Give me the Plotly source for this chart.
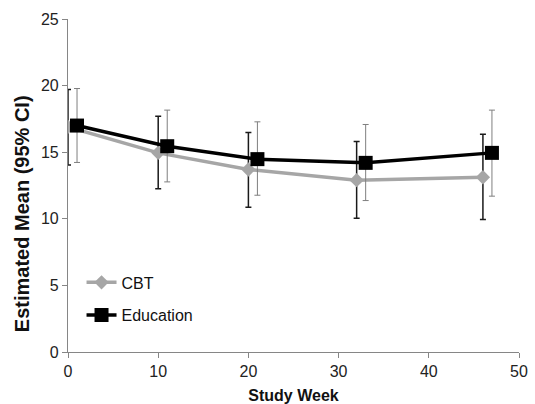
import plotly.graph_objects as go

cbt_week = [0, 10, 20, 32, 46]
cbt_mean = [16.9, 14.95, 13.7, 12.9, 13.12]
cbt_upper = [19.7, 17.7, 16.48, 15.8, 16.35]
cbt_lower = [14.03, 12.25, 10.87, 10.04, 9.94]

edu_week = [1, 11, 21, 33, 47]
edu_mean = [17.0, 15.45, 14.48, 14.2, 14.95]
edu_upper = [19.78, 18.16, 17.28, 17.08, 18.16]
edu_lower = [14.23, 12.77, 11.77, 11.37, 11.7]

x_ticks = [0, 10, 20, 30, 40, 50]
y_ticks = [0, 5, 10, 15, 20, 25]

FONT = "Liberation Sans, Arial, sans-serif"

fig = go.Figure()
fig.add_trace(go.Scatter(
    x=cbt_week, y=cbt_mean, name="CBT", mode="lines+markers", legendgroup="cbt",
    line=dict(color="#a6a6a6", width=3.5),
    marker=dict(symbol="diamond", size=11, color="#a6a6a6"),
    error_y=dict(type="data", symmetric=False,
                 array=[u - m for u, m in zip(cbt_upper, cbt_mean)],
                 arrayminus=[m - l for m, l in zip(cbt_mean, cbt_lower)],
                 color="#1a1a1a", thickness=1.5, width=3),
))
fig.add_trace(go.Scatter(
    x=edu_week, y=edu_mean, name="Education", mode="lines+markers", legendgroup="edu",
    line=dict(color="#000000", width=3.5),
    marker=dict(symbol="square", size=14, color="#000000"),
    error_y=dict(type="data", symmetric=False,
                 array=[u - m for u, m in zip(edu_upper, edu_mean)],
                 arrayminus=[m - l for m, l in zip(edu_mean, edu_lower)],
                 color="#7f7f7f", thickness=1, width=3),
))

axis_common = dict(showgrid=False, zeroline=False, showline=True,
                   linecolor="#868686", linewidth=1.2, ticks="outside",
                   tickcolor="#868686", ticklen=5, automargin=False,
                   tickfont=dict(family=FONT, size=16, color="#222"))

fig.update_layout(
    width=535, height=404,
    margin=dict(l=68, r=16, t=19, b=52),
    paper_bgcolor="white", plot_bgcolor="white",
    showlegend=True,
    legend=dict(x=0.03, y=0.26, xanchor="left", yanchor="top",
                traceorder="grouped", tracegroupgap=9,
                font=dict(family=FONT, size=16, color="#111"),
                bgcolor="rgba(0,0,0,0)", itemwidth=30),
    xaxis=dict(range=[0, 50], tickvals=x_ticks,
               title=dict(text="<b>Study Week</b>", standoff=13,
                          font=dict(family=FONT, size=16, color="#111")),
               **axis_common),
    yaxis=dict(range=[0, 25], tickvals=y_ticks, **axis_common),
    annotations=[dict(text="<b>Estimated Mean (95% CI)</b>", textangle=-90,
                      xref="paper", yref="paper", x=-0.102, y=0.417,
                      xanchor="center", yanchor="middle", showarrow=False,
                      font=dict(family=FONT, size=20, color="#111"))],
)

fig.write_html("out.html", config={"displayModeBar": False},
               post_script="document.body.style.margin='0';document.body.style.overflow='hidden';")
